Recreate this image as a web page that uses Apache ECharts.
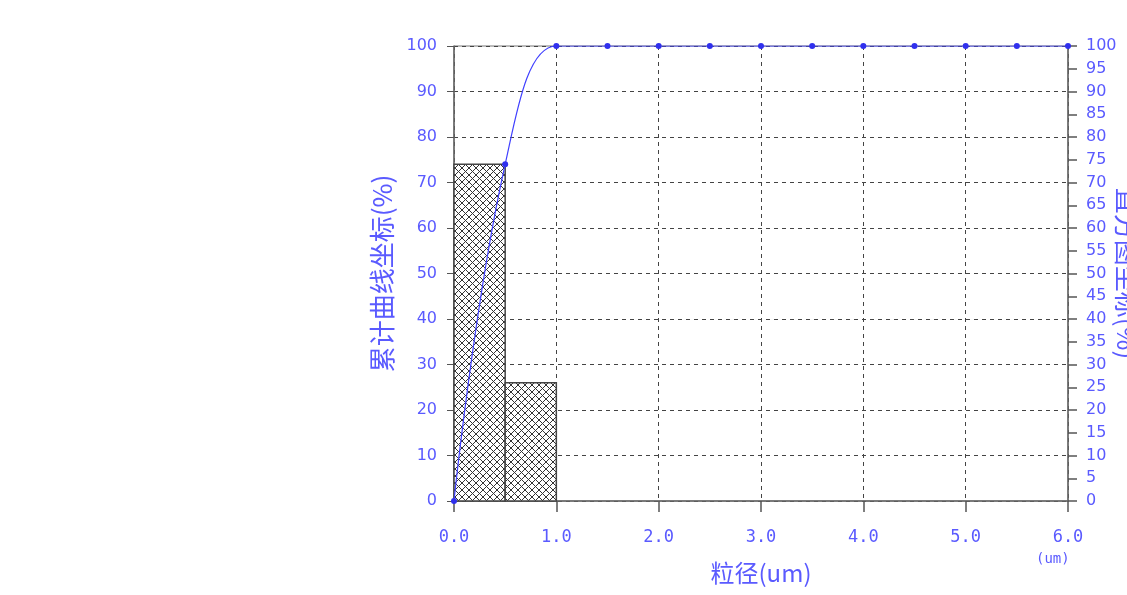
<!DOCTYPE html>
<html><head><meta charset="utf-8">
<script src="https://cdn.jsdelivr.net/npm/echarts@6/dist/echarts.min.js"></script>
<style>html,body{margin:0;padding:0;background:#fff}#c{width:1127px;height:595px}</style>
</head><body><div id="c"></div>
<script>
// Data
const binStarts = [0.0, 0.5];
const binEnds = [0.5, 1.0];
const binPercents = [74, 26];
const cumX = [0, 0.5, 1.0, 1.5, 2.0, 2.5, 3.0, 3.5, 4.0, 4.5, 5.0, 5.5, 6.0];
const cumY = [0, 74, 100, 100, 100, 100, 100, 100, 100, 100, 100, 100, 100];
const xTitle = '粒径(um)';
const xUnit = '(um)';
const leftTitle = '累计曲线坐标(%)';
const rightTitle = '直方图坐标(%)';

const BLUE = '#5a5aff';
const GRID = '#444';

// crosshatch pattern
const pc = document.createElement('canvas');
pc.width = 7; pc.height = 7;
const g = pc.getContext('2d');
g.fillStyle = '#fff'; g.fillRect(0,0,7,7);
g.strokeStyle = '#333'; g.lineWidth = 1;
g.beginPath(); g.moveTo(0,0); g.lineTo(7,7); g.moveTo(7,0); g.lineTo(0,7); g.stroke();

const barData = binStarts.map((s,i)=>[s, binEnds[i], binPercents[i]]);
const lineData = cumX.map((x,i)=>[x, cumY[i]]);

const chart = echarts.init(document.getElementById('c'), null, {renderer:'canvas'});
chart.setOption({
  animation:false,
  backgroundColor:'#fff',
  grid:{left:454, right:59, top:46, bottom:94, show:true, borderColor:'#777', borderWidth:1,
        outerBoundsMode:'none', containLabel:false},
  xAxis:{
    type:'value', min:0, max:6, interval:1,
    name:xTitle, nameLocation:'middle', nameGap:60,
    nameTextStyle:{color:BLUE, fontSize:24, fontFamily:'Noto Sans CJK SC'},
    axisLine:{show:true, onZero:false, lineStyle:{color:'#666', width:1.5}},
    axisTick:{show:true, length:11, lineStyle:{color:'#555', width:1.5}},
    axisLabel:{color:BLUE, fontSize:17, fontFamily:'DejaVu Sans Mono', margin:28,
      formatter:v=>v.toFixed(1)},
    splitLine:{show:true, lineStyle:{color:GRID, type:[4,4], width:1}}
  },
  yAxis:[{
    type:'value', min:0, max:100, interval:10, position:'left',
    name:leftTitle, nameLocation:'middle', nameGap:50, nameRotate:90,
    nameTextStyle:{color:BLUE, fontSize:26, fontFamily:'Noto Sans CJK SC'},
    axisLine:{show:true, lineStyle:{color:'#666', width:1.5}},
    axisTick:{show:true, length:7, lineStyle:{color:'#555'}},
    axisLabel:{color:BLUE, fontSize:16, fontFamily:'DejaVu Sans', margin:17},
    splitLine:{show:true, lineStyle:{color:GRID, type:[4,4], width:1}}
  },{
    type:'value', min:0, max:100, interval:5, position:'right',
    name:rightTitle, nameLocation:'middle', nameGap:46, nameRotate:-90, nameMoveOverlap:false,
    nameTextStyle:{color:BLUE, fontSize:26, fontFamily:'Noto Sans CJK SC'},
    axisLine:{show:true, lineStyle:{color:'#666', width:1.5}},
    axisTick:{show:true, length:9, lineStyle:{color:'#555', width:1.5}},
    axisLabel:{color:BLUE, fontSize:16, fontFamily:'DejaVu Sans', margin:18},
    splitLine:{show:false}
  }],
  graphic:[{type:'text', left:1036, top:552, style:{text:xUnit, fill:BLUE, fontSize:14, fontFamily:'DejaVu Sans Mono'}}],
  series:[{
    type:'custom', yAxisIndex:1, z:2,
    data:barData,
    renderItem:(params, api)=>{
      const p0 = api.coord([api.value(0), 0]);
      const p1 = api.coord([api.value(1), api.value(2)]);
      return {type:'rect', shape:{x:p0[0], y:p1[1], width:p1[0]-p0[0], height:p0[1]-p1[1]},
        style:{fill:{image:pc, repeat:'repeat'}, stroke:'#444', lineWidth:1.5}};
    },
    encode:{x:[0,1], y:2}
  },{
    type:'line', yAxisIndex:0, z:5, data:lineData,
    smooth:0.4,
    symbol:'circle', symbolSize:6,
    lineStyle:{color:'#4040ff', width:1.2},
    itemStyle:{color:'#3030ee'}
  }]
});
</script></body></html>
